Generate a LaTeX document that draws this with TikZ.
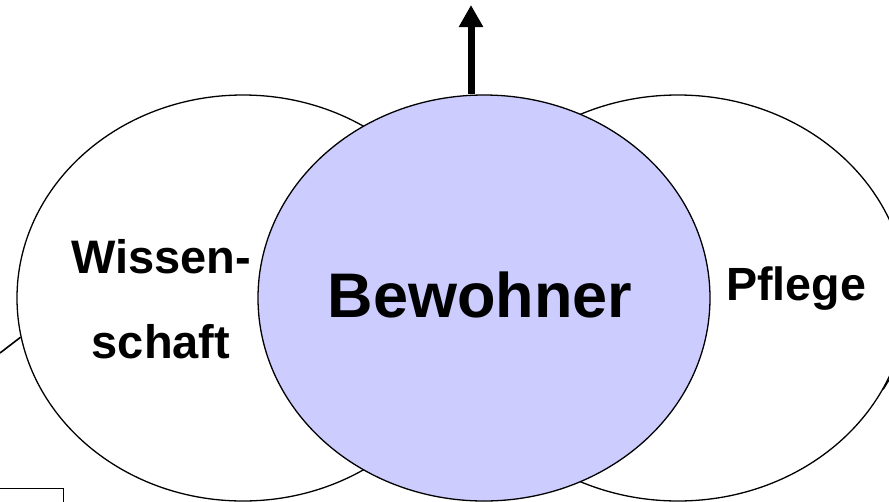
\documentclass[tikz,border=0pt]{standalone}
\usepackage{fontspec}
\setmainfont{Liberation Sans}
\usetikzlibrary{shapes.geometric,arrows.meta}
\definecolor{bewblue}{HTML}{CCCCFF}
\tikzset{
  field/.style={ellipse,draw=black,line width=1.3pt,minimum width=452pt,minimum height=406pt,inner sep=0pt},
  label/.style={font=\bfseries,anchor=base,inner sep=0pt}
}
\begin{document}
\begin{tikzpicture}[x=1pt,y=-1pt]
  \useasboundingbox (0,0) rectangle (889,501);
  \clip (0,0) rectangle (889,501);
  % outer fields
  \node[field,fill=white] (wis) at (243,298) {};
  \node[field,fill=white,minimum width=458pt] (pfl) at (678,298) {};
  % central field
  \node[field,fill=bewblue] (bew) at (484,298) {};
  % labels
  \node[label,font=\fontsize{47}{47}\bfseries\selectfont] (t1) at (161,273) {Wissen-};
  \node[label,font=\fontsize{47}{47}\bfseries\selectfont] (t2) at (161,358) {schaft};
  \node[label,font=\fontsize{63}{63}\bfseries\selectfont] (t3) at (480,317) {Bewohner};
  \node[label,font=\fontsize{46.6}{46.6}\bfseries\selectfont] (t4) at (796,300) {Pflege};
  % arrow leaving the top
  \coordinate (up) at (471,5);
  \draw[line width=7pt,-{Triangle[width=23pt,length=22pt]}] (up |- bew.north) -- (up);
  % connector stubs at the edges
  \coordinate (lstub) at (0,353);
  \draw[line width=1.6pt] (lstub) -- (wis.190);
  \coordinate (rstub) at (892,375);
  \draw[line width=1.3pt] (pfl.-24) -- (rstub);
  % box at the lower left
  \node[draw=black,line width=1pt,minimum width=70pt,minimum height=24pt,inner sep=0pt] (box) at (28,500) {};
\end{tikzpicture}
\end{document}
